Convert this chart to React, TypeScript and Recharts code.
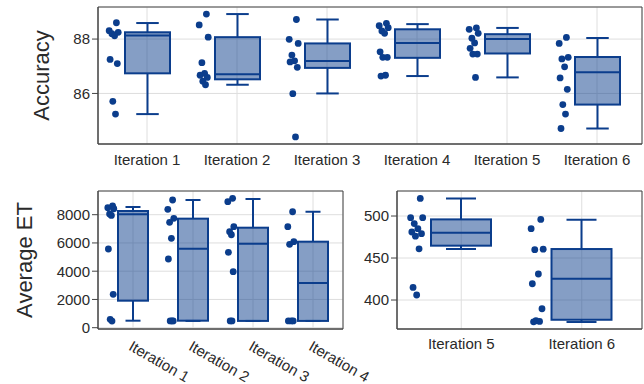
import React from "react";
import { ComposedChart, Bar, Scatter, XAxis, YAxis, CartesianGrid } from "recharts";

// top panel: accuracy per iteration
const accIterations = ["Iteration 1", "Iteration 2", "Iteration 3", "Iteration 4", "Iteration 5", "Iteration 6"];
const accLow = [85.24, 86.32, 86.0, 86.64, 86.59, 84.71];
const accQ1 = [86.74, 86.52, 86.94, 87.31, 87.47, 85.59];
const accMedian = [88.13, 86.71, 87.19, 87.86, 88.0, 86.78];
const accQ3 = [88.25, 88.07, 87.84, 88.36, 88.18, 87.34];
const accHigh = [88.59, 88.92, 88.72, 88.55, 88.41, 88.04];
const accPoints = [
  [88.6, 88.31, 88.25, 88.2, 88.12, 87.25, 87.1, 85.71, 85.24],
  [88.92, 88.52, 88.07, 87.13, 86.74, 86.67, 86.59, 86.45, 86.32],
  [88.72, 87.99, 87.84, 87.41, 87.2, 87.16, 86.96, 85.99, 84.4],
  [88.58, 88.49, 88.42, 88.3, 88.21, 87.53, 87.33, 87.33, 86.67, 86.64],
  [88.41, 88.36, 88.21, 88.03, 87.86, 87.66, 87.45, 87.45, 86.59],
  [88.06, 87.84, 87.33, 87.27, 86.98, 86.57, 86.15, 85.59, 85.24, 84.71],
];

// bottom left: average ET, iterations 1-4
const etIterations = ["Iteration 1", "Iteration 2", "Iteration 3", "Iteration 4"];
const etLow = [496, 480, 480, 480];
const etQ1 = [1912, 496, 480, 480];
const etMedian = [8025, 5595, 5950, 3165];
const etQ3 = [8262, 7720, 7080, 6090];
const etHigh = [8545, 9040, 9110, 8210];
const etPoints = [
  [8620, 8500, 8420, 8050, 7950, 5570, 2360, 590, 470],
  [9040, 8380, 7740, 7460, 6330, 4865, 480, 480, 480],
  [9157, 8920, 7150, 6800, 6580, 5335, 3965, 480, 480],
  [8210, 7150, 6090, 5900, 480, 480, 480],
];

// bottom right: average ET, iterations 5-6
const lateIterations = ["Iteration 5", "Iteration 6"];
const lateLow = [460.7, 373.8];
const lateQ1 = [464.7, 376.5];
const lateMedian = [480, 425.4];
const lateQ3 = [496, 460.7];
const lateHigh = [521, 495.6];
const latePoints = [
  [521, 498, 498, 491, 485, 481, 479, 476, 461, 415, 406],
  [496, 485, 460.5, 460, 431, 419.4, 389.6, 375.3, 374.5, 374],
];

const BLUE = "#0b3d8c";
const AXIS = "#444";
const GRID = "#dedede";
const TEXT = "#2a2a2a";
const FONT = "'Liberation Sans', Arial, Helvetica, sans-serif";
const JITTER = [0.03, -0.05, 0.05, -0.02, 0.01, -0.04, 0.04, -0.01, 0.02, -0.03, 0.0];
const POINT_SHIFT = -0.37;

const toRows = (names: string[], low: number[], q1: number[], med: number[], q3: number[], high: number[]) =>
  names.map((name, i) => ({ name, low: low[i], q1: q1[i], med: med[i], q3: q3[i], high: high[i] }));

const toPoints = (names: string[], pts: number[][]) =>
  names.flatMap((name, i) => pts[i].map((v, j) => ({ name, v, j })));

const BoxShape = (props: any) => {
  const { x, y, width, height, payload } = props;
  if (x == null || y == null || !payload) return null;
  const top = Math.min(y, y + height);
  const bottom = Math.max(y, y + height);
  const span = payload.high - payload.low;
  const toY = (v: number) => (span === 0 ? top : top + ((payload.high - v) / span) * (bottom - top));
  const cx = x + width / 2;
  const cap = width / 4;
  const yQ3 = toY(payload.q3);
  const yQ1 = toY(payload.q1);
  const yMed = toY(payload.med);
  return (
    <g>
      <line x1={cx} x2={cx} y1={top} y2={yQ3} stroke={BLUE} strokeWidth={2} />
      <line x1={cx} x2={cx} y1={yQ1} y2={bottom} stroke={BLUE} strokeWidth={2} />
      <line x1={cx - cap} x2={cx + cap} y1={top} y2={top} stroke={BLUE} strokeWidth={2} />
      <line x1={cx - cap} x2={cx + cap} y1={bottom} y2={bottom} stroke={BLUE} strokeWidth={2} />
      <rect x={x} y={yQ3} width={width} height={Math.max(yQ1 - yQ3, 0)} fill={BLUE} fillOpacity={0.5} stroke={BLUE} strokeWidth={2} />
      <line x1={x} x2={x + width} y1={yMed} y2={yMed} stroke={BLUE} strokeWidth={2} />
    </g>
  );
};

const makeDot = (band: number) => (props: any) => {
  const { cx, cy, payload } = props;
  if (cx == null || cy == null) return null;
  const dx = (POINT_SHIFT + JITTER[payload.j % JITTER.length]) * band;
  return <circle cx={cx + dx} cy={cy} r={3.4} fill={BLUE} />;
};

type PanelProps = {
  width: number;
  height: number;
  margin: { top: number; right: number; bottom: number; left: number };
  yWidth: number;
  xHeight: number;
  padLeft: number;
  barSize: number;
  band: number;
  domain: [number, number];
  ticks: number[];
  rows: any[];
  points: any[];
  yLabel?: string;
  labelDx?: number;
  angle?: number;
  tickMargin: number;
};

const BoxPanel: React.FC<PanelProps> = (p) => (
  <ComposedChart width={p.width} height={p.height} data={p.rows} margin={p.margin}>
    <CartesianGrid stroke={GRID} strokeWidth={1} />
    <XAxis
      dataKey="name"
      type="category"
      allowDuplicatedCategory={false}
      padding={{ left: p.padLeft, right: 0 }}
      height={p.xHeight}
      interval={0}
      tickLine={false}
      tickSize={0}
      tickMargin={p.tickMargin}
      stroke={AXIS}
      angle={p.angle ?? 0}
      tick={{ fontSize: 15, fill: TEXT, textAnchor: p.angle ? "start" : "middle" }}
    />
    <YAxis
      type="number"
      domain={p.domain}
      allowDataOverflow
      ticks={p.ticks}
      width={p.yWidth}
      tickSize={6}
      tickMargin={2}
      stroke={AXIS}
      tick={{ fontSize: 15, fill: TEXT }}
      label={
        p.yLabel
          ? { value: p.yLabel, angle: -90, position: "center", dx: p.labelDx, fontSize: 22, fill: TEXT }
          : undefined
      }
    />
    <Bar dataKey={(d: any) => [d.low, d.high]} barSize={p.barSize} shape={BoxShape} isAnimationActive={false} />
    <Scatter data={p.points} dataKey="v" shape={makeDot(p.band)} isAnimationActive={false} />
    <CartesianGrid
      stroke={AXIS}
      fill="none"
      horizontalCoordinatesGenerator={({ offset }: any) => [offset.top, offset.top + offset.height]}
      verticalCoordinatesGenerator={({ offset }: any) => [offset.left, offset.left + offset.width]}
    />
  </ComposedChart>
);

export default function App() {
  return (
    <div style={{ position: "absolute", left: 0, top: 0, width: 644, height: 384, background: "#fff", fontFamily: FONT, overflow: "hidden" }}>
      <div style={{ position: "absolute", left: 0, top: 0 }}>
        <BoxPanel
          width={644}
          height={175}
          margin={{ top: 7, right: 2, bottom: 0, left: 0 }}
          yWidth={98}
          xHeight={31}
          padLeft={4}
          barSize={45}
          band={90}
          domain={[84.14, 89.18]}
          ticks={[86, 88]}
          rows={toRows(accIterations, accLow, accQ1, accMedian, accQ3, accHigh)}
          points={toPoints(accIterations, accPoints)}
          yLabel="Accuracy"
          labelDx={-8}
          tickMargin={10}
        />
      </div>
      <div style={{ position: "absolute", left: 0, top: 175 }}>
        <BoxPanel
          width={420}
          height={215}
          margin={{ top: 16, right: 77, bottom: 6, left: 0 }}
          yWidth={98}
          xHeight={55}
          padLeft={5}
          barSize={30}
          band={60}
          domain={[-92, 9678]}
          ticks={[0, 2000, 4000, 6000, 8000]}
          rows={toRows(etIterations, etLow, etQ1, etMedian, etQ3, etHigh)}
          points={toPoints(etIterations, etPoints)}
          yLabel="Average ET"
          labelDx={-25}
          angle={30}
          tickMargin={11}
        />
      </div>
      <div style={{ position: "absolute", left: 350, top: 175 }}>
        <BoxPanel
          width={294}
          height={209}
          margin={{ top: 16, right: 2, bottom: 0, left: 0 }}
          yWidth={47}
          xHeight={55}
          padLeft={4}
          barSize={60}
          band={120.5}
          domain={[365.5, 529.8]}
          ticks={[400, 450, 500]}
          rows={toRows(lateIterations, lateLow, lateQ1, lateMedian, lateQ3, lateHigh)}
          points={toPoints(lateIterations, latePoints)}
          tickMargin={9}
        />
      </div>
    </div>
  );
}
